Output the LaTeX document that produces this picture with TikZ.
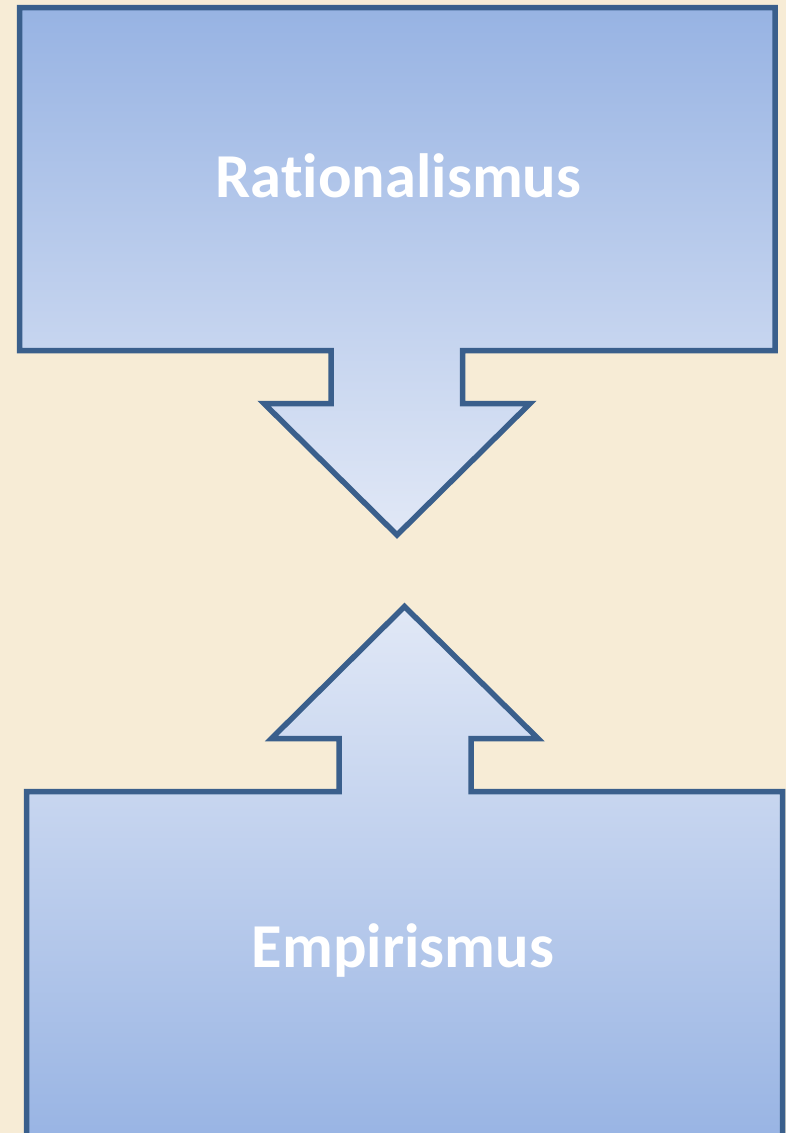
\documentclass[tikz,border=0pt]{standalone}
\usepackage{fontspec}
\newfontfamily\calibri[RawFeature=-liga]{Carlito}
\definecolor{parch}{HTML}{F7ECD6}
\definecolor{edgeblue}{HTML}{3A5F8C}
\definecolor{darkfill}{HTML}{97B3E3}
\definecolor{lightfill}{HTML}{E1E8F6}
\tikzset{
  callout/.style={line width=5.5pt, draw=edgeblue},
  label/.style={text=white, font=\calibri\bfseries\fontsize{62.5}{66}\selectfont, inner sep=0pt, anchor=base},
}
\begin{document}
\begin{tikzpicture}[x=1pt,y=-1pt]
\useasboundingbox (0,0) rectangle (786,1133);
\fill[parch] (0,0) rectangle (786,1133);
\clip (0,0) rectangle (786,1133);
% top callout
\shadedraw[callout, top color=darkfill, bottom color=lightfill]
  (19.5,7.5) -- (775,7.5) -- (775,350.5) -- (462.5,350.5) -- (462.5,403.5) -- (530,403.5)
  -- (397,535) -- (264,403.5) -- (331,403.5) -- (331,350.5) -- (19.5,350.5) -- cycle;
% bottom callout
\shadedraw[callout, top color=lightfill, bottom color=darkfill]
  (404.5,606.5) -- (538,738.5) -- (471,738.5) -- (471,791.5) -- (782.5,791.5) -- (782.5,1150)
  -- (26.5,1150) -- (26.5,791.5) -- (339,791.5) -- (339,738.5) -- (271.5,738.5) -- cycle;
\node[label] (rat) at (398.5,197) {Rationalismus};
\node[label] (emp) at (403,967) {Empirismus};
\end{tikzpicture}
\end{document}
